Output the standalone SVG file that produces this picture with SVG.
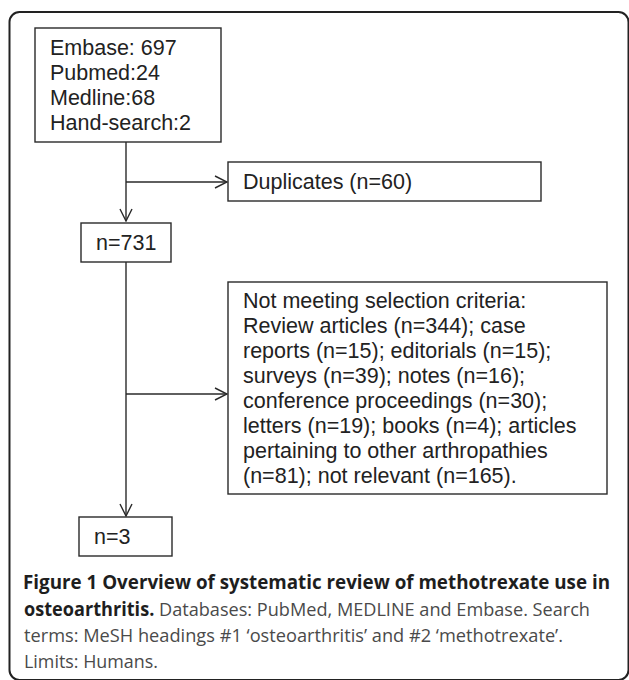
<svg xmlns="http://www.w3.org/2000/svg" width="629" height="680" viewBox="0 0 629 680">
<defs>
<style>
.box{fill:#fff;stroke:#2a2a2a;stroke-width:1.4}
.t{font-family:"Liberation Sans",Arial,sans-serif;font-size:21.5px;fill:#222}
.ln{fill:none;stroke:#2a2a2a;stroke-width:1.4}
.cap{font-family:"Open Sans","Noto Sans",sans-serif;font-size:19px;fill:#4a4a4a}
.capb{font-weight:bold;fill:#1e1e1e}
</style>
<marker id="ah" viewBox="0 0 14 14" refX="13" refY="7" markerWidth="14" markerHeight="14" markerUnits="userSpaceOnUse" orient="auto">
<path d="M1,1 L13,7 L1,13" fill="none" stroke="#2a2a2a" stroke-width="1.4"/>
</marker>
</defs>
<rect x="9.5" y="12" width="619" height="668" rx="10" fill="none" stroke="#222" stroke-width="2"/>
<g id="connectors">
<path class="ln" d="M126,142 V221" marker-end="url(#ah)"/>
<path class="ln" d="M126,182 H227" marker-end="url(#ah)"/>
<path class="ln" d="M126,262 V516" marker-end="url(#ah)"/>
<path class="ln" d="M126,394 H227" marker-end="url(#ah)"/>
</g>
<g id="sources">
<rect class="box" x="35" y="28" width="186" height="114"/>
<text class="t" x="50" y="55">Embase: 697</text>
<text class="t" x="50" y="80">Pubmed:24</text>
<text class="t" x="50" y="105">Medline:68</text>
<text class="t" x="50" y="130">Hand-search:2</text>
</g>
<g id="duplicates">
<rect class="box" x="228" y="162" width="313" height="39"/>
<text class="t" x="243" y="189">Duplicates (n=60)</text>
</g>
<g id="n731">
<rect class="box" x="81" y="223" width="90" height="39"/>
<text class="t" x="96" y="250">n=731</text>
</g>
<g id="excluded">
<rect class="box" x="228" y="282" width="379" height="212"/>
<text class="t" x="243" y="308">Not meeting selection criteria:</text>
<text class="t" x="243" y="333">Review articles (n=344); case</text>
<text class="t" x="243" y="358">reports (n=15); editorials (n=15);</text>
<text class="t" x="243" y="383">surveys (n=39); notes (n=16);</text>
<text class="t" x="243" y="408">conference proceedings (n=30);</text>
<text class="t" x="243" y="433">letters (n=19); books (n=4); articles</text>
<text class="t" x="243" y="458">pertaining to other arthropathies</text>
<text class="t" x="243" y="483">(n=81); not relevant (n=165).</text>
</g>
<g id="n3">
<rect class="box" x="79" y="517" width="93" height="39"/>
<text class="t" x="94" y="544">n=3</text>
</g>
<g id="caption">
<text class="cap capb" x="23" y="589" textLength="587" lengthAdjust="spacingAndGlyphs">Figure 1 Overview of systematic review of methotrexate use in</text>
<text class="cap" x="24" y="616" textLength="566" lengthAdjust="spacingAndGlyphs"><tspan class="capb">osteoarthritis.</tspan> Databases: PubMed, MEDLINE and Embase. Search</text>
<text class="cap" x="24" y="642" textLength="539" lengthAdjust="spacingAndGlyphs">terms: MeSH headings #1 ‘osteoarthritis’ and #2 ‘methotrexate’.</text>
<text class="cap" x="24" y="668" textLength="134" lengthAdjust="spacingAndGlyphs">Limits: Humans.</text>
</g>
</svg>
